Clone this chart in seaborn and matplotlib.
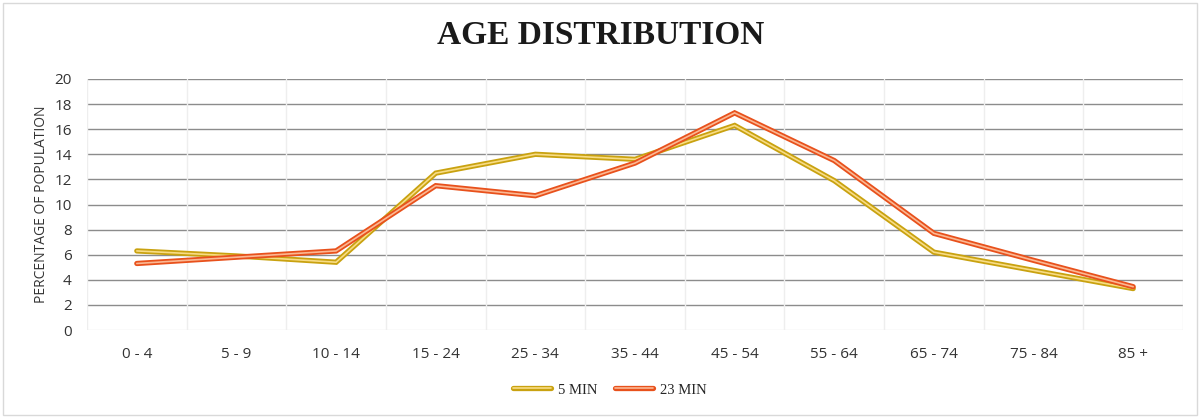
import matplotlib
matplotlib.use("Agg")
import matplotlib.pyplot as plt
import matplotlib.patheffects as pe
from matplotlib.patches import Rectangle
import numpy as np
import pandas as pd
import seaborn as sns

# Age groups and share of population (%) for each travel-time band
age_groups = ["0 - 4", "5 - 9", "10 - 14", "15 - 24", "25 - 34", "35 - 44",
              "45 - 54", "55 - 64", "65 - 74", "75 - 84", "85 +"]
pct_5min = [6.3, 5.9, 5.4, 12.5, 14.0, 13.6, 16.3, 11.9, 6.2, 4.75, 3.3]
pct_23min = [5.3, 5.8, 6.3, 11.5, 10.7, 13.3, 17.3, 13.5, 7.7, 5.55, 3.45]
series_names = ["5 MIN", "23 MIN"]
y_ticks = list(range(0, 21, 2))

df = pd.DataFrame({
    "age": age_groups * 2,
    "pos": list(range(len(age_groups))) * 2,
    "pct": pct_5min + pct_23min,
    "band": [series_names[0]] * len(age_groups) + [series_names[1]] * len(age_groups),
})

sns.set_theme(style="white")
plt.rcParams["font.family"] = ["Open Sans", "DejaVu Sans"]

fig = plt.figure(figsize=(12.01, 4.17), dpi=100)
ax = fig.add_axes([87 / 1201, 1 - 330 / 417, (1183 - 87) / 1201, (330 - 79) / 417])

# Outer strokes and light inner cores give a double-line look
outer = {"5 MIN": "#c9a210", "23 MIN": "#e8511c"}
inner = {"5 MIN": "#f8dc85", "23 MIN": "#fbb893"}

sns.lineplot(data=df, x="pos", y="pct", hue="band", hue_order=series_names,
             palette=inner, linewidth=1.2, ax=ax, legend=False, sort=False,
             estimator=None)
for line in ax.get_lines():
    col = line.get_color()
    key = "5 MIN" if matplotlib.colors.to_hex(col) == inner["5 MIN"] else "23 MIN"
    line.set_path_effects([pe.Stroke(linewidth=3.8, foreground=outer[key]), pe.Normal()])
    line.set_solid_joinstyle("miter")
    line.set_label(key)

ax.set_xlim(-0.5, len(age_groups) - 0.5)
ax.set_ylim(0, 20)
ax.set_xticks(range(len(age_groups)))
ax.set_xticklabels(age_groups)
ax.set_yticks(y_ticks)
ax.set_yticklabels([str(t) for t in y_ticks])
ax.tick_params(axis="both", length=0, labelsize=11, labelcolor="#333333")
ax.tick_params(axis="x", pad=12)
ax.tick_params(axis="y", pad=11)
ax.set_xlabel("")
ax.set_ylabel("PERCENTAGE OF POPULATION", fontsize=10, color="#333333", labelpad=4)

for s in ax.spines.values():
    s.set_visible(False)

# Horizontal gridlines
for t in y_ticks[1:]:
    ax.axhline(t, color="#8c8c8c", linewidth=1.0, zorder=0)
ax.axhline(0, color="#e6e6e6", linewidth=1.0, zorder=0)
# Faint category separators
for b in np.arange(-0.5, len(age_groups), 1.0):
    ax.axvline(b, color="#eeeeee", linewidth=1.0, zorder=0)

handles = ax.get_lines()[:2]
leg = fig.legend(handles=handles, labels=series_names, loc="center",
                 bbox_to_anchor=(610 / 1201, 1 - 390 / 417), ncol=2,
                 frameon=False, handlelength=2.6, columnspacing=1.2,
                 handletextpad=0.5, prop={"family": "Liberation Serif", "size": 10.5})
for t in leg.get_texts():
    t.set_color("#262626")

fig.text(0.5, 1 - 36 / 417, "AGE DISTRIBUTION", ha="center", va="center",
         fontsize=24, fontweight="bold", family="Liberation Serif", color="#1a1a1a")

# Outer chart border
fig.patches.append(Rectangle((3 / 1201, 2 / 417), 1 - 7 / 1201, 1 - 5 / 417,
                             transform=fig.transFigure, fill=False,
                             edgecolor="#d9d9d9", linewidth=1.0))

fig.savefig("out.png", dpi=100)
